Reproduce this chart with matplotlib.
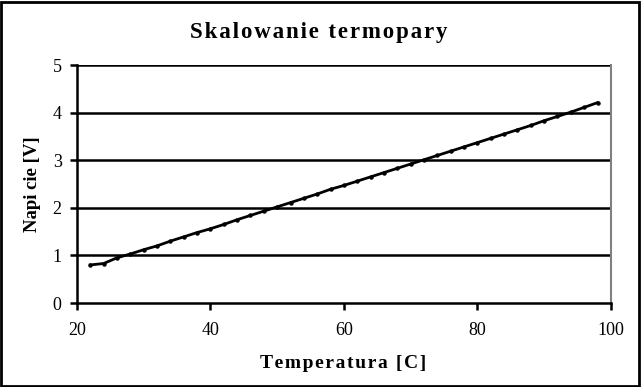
import matplotlib
matplotlib.use("Agg")
import matplotlib.pyplot as plt
from matplotlib.patches import Rectangle

temperature = [22, 24, 26, 28, 30, 32, 34, 36, 38, 40, 42, 44, 46, 48, 50, 52, 54, 56, 58, 60,
               62, 64, 66, 68, 70, 72, 74, 76, 78, 80, 82, 84, 86, 88, 90, 92, 94, 96, 98]
voltage = [0.80, 0.83, 0.95, 1.03, 1.12, 1.20, 1.30, 1.39, 1.48, 1.56, 1.65, 1.75, 1.84, 1.93,
           2.02, 2.11, 2.20, 2.29, 2.39, 2.47, 2.56, 2.65, 2.74, 2.83, 2.92, 3.01, 3.10, 3.19,
           3.28, 3.37, 3.46, 3.55, 3.64, 3.73, 3.83, 3.92, 4.01, 4.11, 4.21]
x_ticks = [20, 40, 60, 80, 100]
y_ticks = [0, 1, 2, 3, 4, 5]
title = 'Skalowanie termopary'
x_label = 'Temperatura [C]'
y_label = 'Napi cie [V]'

plt.rcParams['font.family'] = ['Liberation Serif', 'DejaVu Serif']


def spaced(s):
    return '\u200a'.join(s)


fig = plt.figure(figsize=(6.41, 3.87), dpi=100)
ax = fig.add_axes([0.120, 0.217, 0.833, 0.615])

for y in y_ticks[1:]:
    ax.axhline(y, color='black', lw=1.8, zorder=1)

ax.plot(temperature, voltage, color='black', lw=2.0, marker='o', markersize=2.2, zorder=3)

ax.set_xlim(20, 100)
ax.set_ylim(0, 5)
ax.set_xticks(x_ticks)
ax.set_yticks(y_ticks)
ax.tick_params(direction='out', length=5, width=1.8, labelsize=13)
ax.tick_params(axis='x', pad=9)
ax.tick_params(axis='y', pad=6)

for s in ['left', 'bottom']:
    ax.spines[s].set_linewidth(1.8)
    ax.spines[s].set_color('black')
ax.spines['top'].set_visible(False)
ax.spines['right'].set_color('#808080')
ax.spines['right'].set_linewidth(1.5)

fig.text(0.497, 0.915, spaced(title), fontsize=16.5, fontweight='bold', ha='center', va='center')
fig.text(0.535, 0.062, spaced(x_label), fontsize=14, fontweight='bold', ha='center', va='center')
ax.set_ylabel(y_label, fontsize=13.5, fontweight='bold', labelpad=8)

fig.patches.append(Rectangle((0.002, 0.003), 0.995, 0.993, transform=fig.transFigure,
                             fill=False, edgecolor='black', lw=2))

fig.savefig('out.png', dpi=100)
